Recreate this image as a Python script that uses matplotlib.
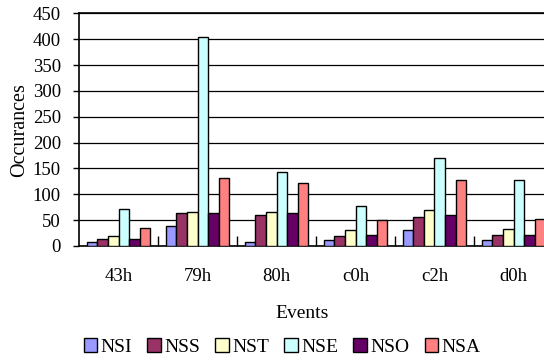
import numpy as np
import matplotlib
matplotlib.use("Agg")
from matplotlib import pyplot as plt

plt.rcParams['font.family'] = ['Liberation Serif', 'DejaVu Serif']

eventos = ["43h", "79h", "80h", "c0h", "c2h", "d0h"]
series = ["NSI", "NSS", "NST", "NSE", "NSO", "NSA"]

nsi = [7, 39, 7, 11, 30, 11]
nss = [14, 63, 60, 19, 57, 22]
nst = [20, 66, 66, 30, 69, 32]
nse = [72, 405, 143, 78, 171, 127]
nso = [14, 63, 63, 22, 60, 22]
nsa = [35, 131, 122, 51, 127, 53]

colores = ["#9999FF", "#993366", "#FFFFCC", "#CCFFFF", "#660066", "#FF8080"]

fig = plt.figure(figsize=(5.44, 3.6), dpi=100)
ax = fig.add_axes([79/544, 114/360, 474/544, 232.7/360])

x = np.arange(len(eventos))
ancho = 0.8 / len(series)
for i, (nombre, valores) in enumerate(zip(series, [nsi, nss, nst, nse, nso, nsa])):
    ax.bar(x - 0.4 + ancho * (i + 0.5), valores, ancho, color=colores[i],
           edgecolor="black", linewidth=1.0, label=nombre, zorder=3)

ax.set_xlim(-0.5, len(eventos) - 0.5)
ax.set_ylim(0, 450)
ax.set_yticks(np.arange(0, 451, 50))
ax.yaxis.grid(True, color="black", linewidth=0.9, zorder=0)
ax.tick_params(axis="y", length=4, width=1, pad=9, labelsize=13.5)

# etiquetas en el centro, marcas entre grupos
ax.set_xticks(x)
ax.set_xticklabels(eventos)
ax.set_xticks(np.arange(0.5, len(eventos) - 0.5, 1), minor=True)
ax.tick_params(axis="x", which="major", length=0, pad=16, labelsize=13.5)
ax.tick_params(axis="x", which="minor", direction="in", length=7, width=1)

ax.spines["right"].set_visible(False)
for lado in ["left", "bottom", "top"]:
    ax.spines[lado].set_linewidth(1.2)

ax.set_xlabel("Events", fontsize=14)
ax.xaxis.set_label_coords(0.47, -0.255)
ax.set_ylabel("Occurances", fontsize=14.5)
ax.yaxis.set_label_coords(-0.105, 0.5)

fig.legend(loc="center", bbox_to_anchor=(282/544, 1 - 347/360), ncol=6,
           frameon=False, fontsize=14, handlelength=0.7, handleheight=0.7,
           handletextpad=0.15, columnspacing=0.8)

fig.savefig("out.png", dpi=100)
